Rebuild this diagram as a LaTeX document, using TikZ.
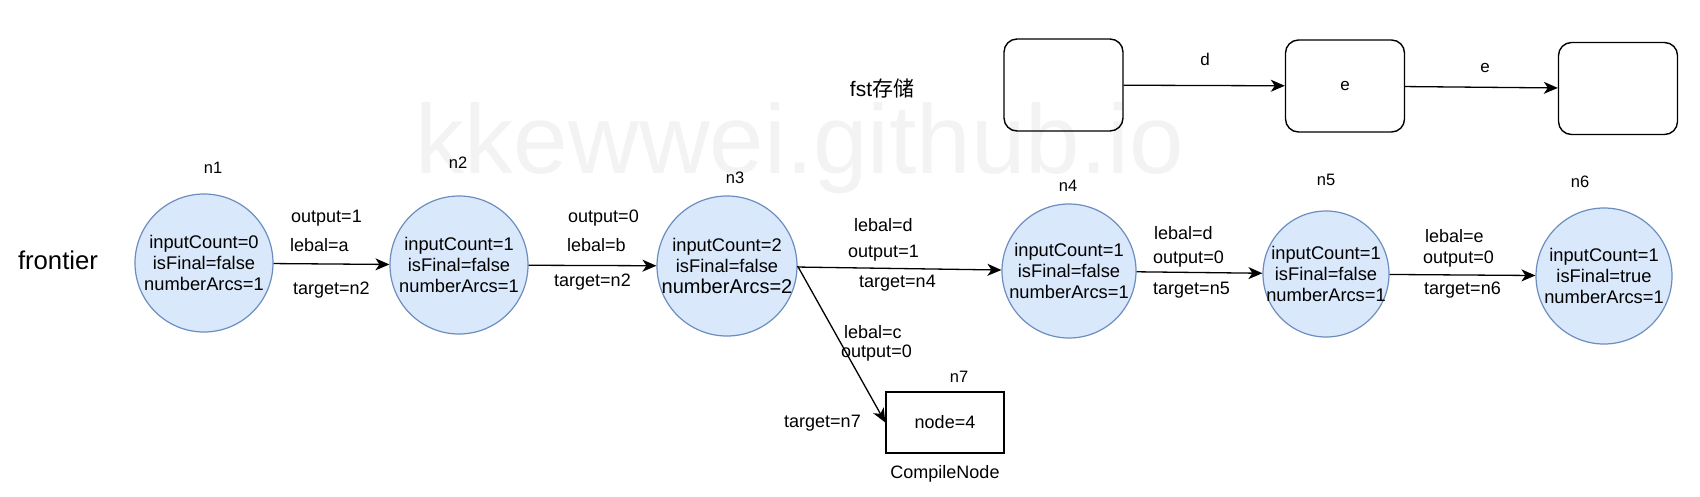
\documentclass[tikz,border=0pt]{standalone}
\usepackage{fontspec}
\setmainfont{Liberation Sans}
\newfontfamily\cjk{Noto Sans CJK SC}
\usepackage{tikz}
\usetikzlibrary{arrows.meta}
\definecolor{statefill}{HTML}{DAE8FC}
\definecolor{stateline}{HTML}{6C8EBF}
\definecolor{wmark}{HTML}{F3F3F3}
\tikzset{
    statenode/.style={
        circle,
        draw=stateline,
        fill=statefill,
        line width=1.2pt,
        inner sep=-6pt,
        align=center,
        font=\fontsize{18.3}{21}\selectfont
    },
    fstbox/.style={
        draw,
        rounded corners=13pt,
        line width=1.4pt,
        minimum width=119pt,
        minimum height=92pt,
        font=\fontsize{17}{20}\selectfont
    },
    compbox/.style={
        draw,
        line width=1.4pt,
        minimum width=118pt,
        minimum height=61pt,
        font=\fontsize{18}{20}\selectfont
    },
    arclabel/.style={
        anchor=west,
        inner sep=0pt,
        text height=13pt,
        text depth=4pt,
        font=\fontsize{18}{20}\selectfont
    },
    idlabel/.style={
        inner sep=0pt,
        font=\fontsize{16.5}{18}\selectfont
    },
    arrow/.style={
        -{Stealth[length=14pt,width=12pt,inset=4pt]},
        line width=1.3pt
    }
}

\begin{document}
\begin{tikzpicture}[x=1pt, y=-1pt]
    \useasboundingbox (0,0) rectangle (1700,496);

    % watermark
    \node[anchor=base, inner sep=0pt, text=wmark,
        font=\fontsize{98}{100}\selectfont] (wm) at (800,173)
        {kkewwei.github.io};

    % fst storage
    \node[font=\fontsize{21}{24}\selectfont, inner sep=0pt] (fsttitle)
        at (882,88) {fst{\cjk 存储}};
    \node[fstbox] (b1) at (1063.5,85) {};
    \node[fstbox] (b2) at (1345,86) {e};
    \node[fstbox] (b3) at (1618,88.5) {};
    \node[idlabel, font=\fontsize{17}{20}\selectfont] (bd) at (1205,59) {d};
    \node[idlabel, font=\fontsize{17}{20}\selectfont] (be) at (1485,68) {e};

    % frontier states
    \node[font=\fontsize{25.7}{28}\selectfont, inner sep=0pt] (frontier)
        at (58,260) {frontier};

    \node[statenode, minimum size=138pt] (n1) at (204,263)
        {inputCount=0\\isFinal=false\\numberArcs=1};
    \node[statenode, minimum size=138pt] (n2) at (459,265)
        {inputCount=1\\isFinal=false\\numberArcs=1};
    \node[statenode, minimum size=140pt] (n3) at (727,266)
        {inputCount=2\\isFinal=false\\{\fontsize{20}{22}\selectfont numberArcs=2}};
    \node[statenode, minimum size=134pt] (n4) at (1069,271)
        {inputCount=1\\isFinal=false\\numberArcs=1};
    \node[statenode, minimum size=126pt] (n5) at (1326,274)
        {inputCount=1\\isFinal=false\\numberArcs=1};
    \node[statenode, minimum size=136pt] (n6) at (1604,276)
        {inputCount=1\\isFinal=true\\numberArcs=1};
    \node[compbox] (n7) at (945,422.5) {node=4};

    \node[idlabel] (id1) at (213,168) {n1};
    \node[idlabel] (id2) at (458,163) {n2};
    \node[idlabel] (id3) at (735,178) {n3};
    \node[idlabel] (id4) at (1068,186) {n4};
    \node[idlabel] (id5) at (1326,180) {n5};
    \node[idlabel] (id6) at (1580,182) {n6};
    \node[idlabel] (id7) at (959,377) {n7};
    \node[idlabel, font=\fontsize{18}{20}\selectfont] (cn) at (945,474)
        {CompileNode};

    % arc labels
    \node[arclabel] (o12) at (291,218) {output=1};
    \node[arclabel] (l12) at (290,247) {lebal=a};
    \node[arclabel] (t12) at (293,290) {target=n2};

    \node[arclabel] (o23) at (568,218) {output=0};
    \node[arclabel] (l23) at (567,247) {lebal=b};
    \node[arclabel] (t23) at (554,282) {target=n2};

    \node[arclabel] (l34) at (854,227) {lebal=d};
    \node[arclabel] (o34) at (848,253) {output=1};
    \node[arclabel] (t34) at (859,283) {target=n4};

    \node[arclabel] (l37) at (844,334) {lebal=c};
    \node[arclabel] (o37) at (841,353) {output=0};
    \node[arclabel] (t37) at (784,423) {target=n7};

    \node[arclabel] (l45) at (1154,235) {lebal=d};
    \node[arclabel] (o45) at (1153,259) {output=0};
    \node[arclabel] (t45) at (1153,290) {target=n5};

    \node[arclabel] (l56) at (1425,238) {lebal=e};
    \node[arclabel] (o56) at (1423,259) {output=0};
    \node[arclabel] (t56) at (1424,290) {target=n6};

    % arcs
    \draw[arrow] (n1) -- (n2);
    \draw[arrow] (n2) -- (n3);
    \draw[arrow] (n3) -- (n4);
    \draw[arrow] (n3.east) -- (n7.west);
    \draw[arrow] (n4) -- (n5);
    \draw[arrow] (n5) -- (n6);
    \draw[arrow] (b1) -- (b2);
    \draw[arrow] (b2) -- (b3);
\end{tikzpicture}
\end{document}
